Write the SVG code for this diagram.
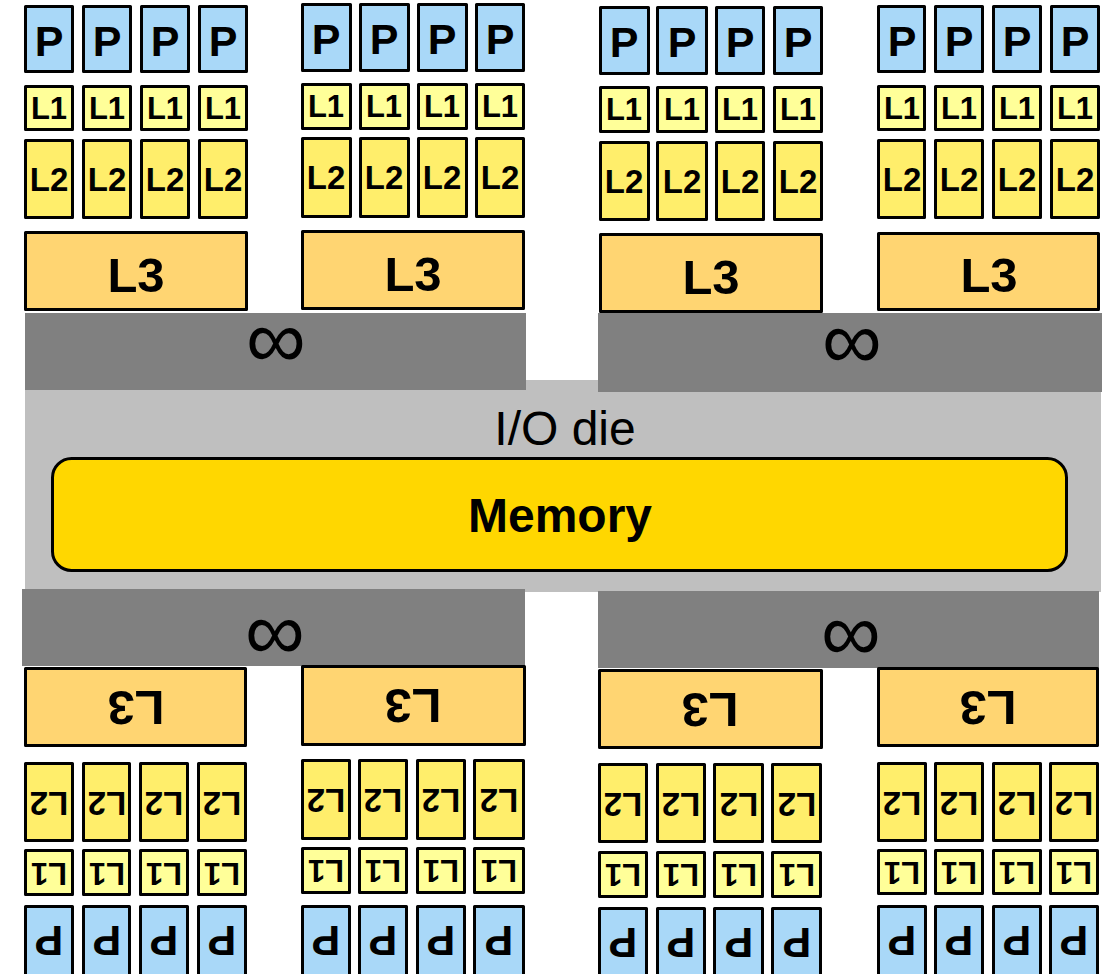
<svg xmlns="http://www.w3.org/2000/svg" width="1110" height="974" viewBox="0 0 1110 974">
<style>
.b{stroke:#000;stroke-width:3;stroke-linejoin:round}
.p{fill:#A9D8F8}.l1{fill:#FFFF99}.l2{fill:#FFEE6B}.l3{fill:#FFD572}
.t{font-family:"Liberation Sans",Arial,sans-serif;font-weight:bold;text-anchor:middle;fill:#000}
.tp{font-size:43px}.t1{font-size:31px}.t2{font-size:33px}.t3{font-size:49px}
.inf{font-family:"Liberation Sans",Arial,sans-serif;font-size:84px;text-anchor:middle;fill:#000}
</style>
<rect width="1110" height="974" fill="#fff"/>
<g id="io-die">
<rect x="25" y="380" width="1076" height="212" fill="#BFBFBF"/>
<text x="565" y="445" style="font-family:'Liberation Sans',Arial,sans-serif;font-size:48px;text-anchor:middle">I/O die</text>
</g>
<g id="memory">
<rect x="52.5" y="458.5" width="1014" height="112" rx="19" fill="#FFD700" stroke="#000" stroke-width="3"/>
<text class="t" x="560" y="532" style="font-size:48px">Memory</text>
</g>
<g id="fabric-top-left"><rect x="25" y="313" width="501" height="77" fill="#808080"/><text class="inf" x="276" y="368">∞</text></g>
<g id="fabric-top-right"><rect x="598" y="313" width="504" height="79" fill="#808080"/><text class="inf" x="852" y="369">∞</text></g>
<g id="fabric-bottom-left"><rect x="22" y="589" width="503" height="77" fill="#808080"/><text class="inf" x="275" y="660">∞</text></g>
<g id="fabric-bottom-right"><rect x="598" y="591" width="501" height="77" fill="#808080"/><text class="inf" x="851" y="661">∞</text></g>

<g id="ccd-top-1" transform="translate(24 5)">
<g id="t1-p1"><rect class="b p" x="1.5" y="1.5" width="47" height="65"/><text class="t tp" x="25" y="51">P</text></g>
<g id="t1-p2"><rect class="b p" x="59.5" y="1.5" width="47" height="65"/><text class="t tp" x="83" y="51">P</text></g>
<g id="t1-p3"><rect class="b p" x="117.5" y="1.5" width="47" height="65"/><text class="t tp" x="141" y="51">P</text></g>
<g id="t1-p4"><rect class="b p" x="175.5" y="1.5" width="47" height="65"/><text class="t tp" x="199" y="51">P</text></g>
<g id="t1-l1a"><rect class="b l1" x="1.5" y="81.5" width="47" height="43"/><text class="t t1" x="25" y="114">L1</text></g>
<g id="t1-l1b"><rect class="b l1" x="59.5" y="81.5" width="47" height="43"/><text class="t t1" x="83" y="114">L1</text></g>
<g id="t1-l1c"><rect class="b l1" x="117.5" y="81.5" width="47" height="43"/><text class="t t1" x="141" y="114">L1</text></g>
<g id="t1-l1d"><rect class="b l1" x="175.5" y="81.5" width="47" height="43"/><text class="t t1" x="199" y="114">L1</text></g>
<g id="t1-l2a"><rect class="b l2" x="1.5" y="135.5" width="47" height="77"/><text class="t t2" x="25" y="186">L2</text></g>
<g id="t1-l2b"><rect class="b l2" x="59.5" y="135.5" width="47" height="77"/><text class="t t2" x="83" y="186">L2</text></g>
<g id="t1-l2c"><rect class="b l2" x="117.5" y="135.5" width="47" height="77"/><text class="t t2" x="141" y="186">L2</text></g>
<g id="t1-l2d"><rect class="b l2" x="175.5" y="135.5" width="47" height="77"/><text class="t t2" x="199" y="186">L2</text></g>
<g id="t1-l3"><rect class="b l3" x="1.5" y="227.5" width="221" height="77"/><text class="t t3" x="112" y="287">L3</text></g>
</g>

<g id="ccd-top-2" transform="translate(301 3)">
<g id="t2-p1"><rect class="b p" x="1.5" y="1.5" width="48" height="66"/><text class="t tp" x="25" y="51">P</text></g>
<g id="t2-p2"><rect class="b p" x="59.5" y="1.5" width="48" height="66"/><text class="t tp" x="83" y="51">P</text></g>
<g id="t2-p3"><rect class="b p" x="117.5" y="1.5" width="48" height="66"/><text class="t tp" x="141" y="51">P</text></g>
<g id="t2-p4"><rect class="b p" x="175.5" y="1.5" width="47" height="66"/><text class="t tp" x="199" y="51">P</text></g>
<g id="t2-l1a"><rect class="b l1" x="1.5" y="81.5" width="48" height="44"/><text class="t t1" x="25" y="114">L1</text></g>
<g id="t2-l1b"><rect class="b l1" x="59.5" y="81.5" width="48" height="44"/><text class="t t1" x="83" y="114">L1</text></g>
<g id="t2-l1c"><rect class="b l1" x="117.5" y="81.5" width="48" height="44"/><text class="t t1" x="141" y="114">L1</text></g>
<g id="t2-l1d"><rect class="b l1" x="175.5" y="81.5" width="47" height="44"/><text class="t t1" x="199" y="114">L1</text></g>
<g id="t2-l2a"><rect class="b l2" x="1.5" y="135.5" width="48" height="78"/><text class="t t2" x="25" y="186">L2</text></g>
<g id="t2-l2b"><rect class="b l2" x="59.5" y="135.5" width="48" height="78"/><text class="t t2" x="83" y="186">L2</text></g>
<g id="t2-l2c"><rect class="b l2" x="117.5" y="135.5" width="48" height="78"/><text class="t t2" x="141" y="186">L2</text></g>
<g id="t2-l2d"><rect class="b l2" x="175.5" y="135.5" width="47" height="78"/><text class="t t2" x="199" y="186">L2</text></g>
<g id="t2-l3"><rect class="b l3" x="1.5" y="228.5" width="221" height="77"/><text class="t t3" x="112" y="288">L3</text></g>
</g>

<g id="ccd-top-3" transform="translate(599 6)">
<g id="t3-p1"><rect class="b p" x="1.5" y="1.5" width="48" height="66"/><text class="t tp" x="25" y="51">P</text></g>
<g id="t3-p2"><rect class="b p" x="58.5" y="1.5" width="49" height="66"/><text class="t tp" x="83" y="51">P</text></g>
<g id="t3-p3"><rect class="b p" x="117.5" y="1.5" width="47" height="66"/><text class="t tp" x="141" y="51">P</text></g>
<g id="t3-p4"><rect class="b p" x="175.5" y="1.5" width="47" height="66"/><text class="t tp" x="199" y="51">P</text></g>
<g id="t3-l1a"><rect class="b l1" x="1.5" y="81.5" width="48" height="44"/><text class="t t1" x="25" y="114">L1</text></g>
<g id="t3-l1b"><rect class="b l1" x="58.5" y="81.5" width="49" height="44"/><text class="t t1" x="83" y="114">L1</text></g>
<g id="t3-l1c"><rect class="b l1" x="117.5" y="81.5" width="47" height="44"/><text class="t t1" x="141" y="114">L1</text></g>
<g id="t3-l1d"><rect class="b l1" x="175.5" y="81.5" width="47" height="44"/><text class="t t1" x="199" y="114">L1</text></g>
<g id="t3-l2a"><rect class="b l2" x="1.5" y="136.5" width="48" height="77"/><text class="t t2" x="25" y="187">L2</text></g>
<g id="t3-l2b"><rect class="b l2" x="58.5" y="136.5" width="49" height="77"/><text class="t t2" x="83" y="187">L2</text></g>
<g id="t3-l2c"><rect class="b l2" x="117.5" y="136.5" width="47" height="77"/><text class="t t2" x="141" y="187">L2</text></g>
<g id="t3-l2d"><rect class="b l2" x="175.5" y="136.5" width="47" height="77"/><text class="t t2" x="199" y="187">L2</text></g>
<g id="t3-l3"><rect class="b l3" x="1.5" y="228.5" width="221" height="77"/><text class="t t3" x="112" y="288">L3</text></g>
</g>

<g id="ccd-top-4" transform="translate(877 5)">
<g id="t4-p1"><rect class="b p" x="1.5" y="1.5" width="46" height="65"/><text class="t tp" x="25" y="51">P</text></g>
<g id="t4-p2"><rect class="b p" x="58.5" y="1.5" width="47" height="65"/><text class="t tp" x="82" y="51">P</text></g>
<g id="t4-p3"><rect class="b p" x="116.5" y="1.5" width="47" height="65"/><text class="t tp" x="140" y="51">P</text></g>
<g id="t4-p4"><rect class="b p" x="174.5" y="1.5" width="47" height="65"/><text class="t tp" x="198" y="51">P</text></g>
<g id="t4-l1a"><rect class="b l1" x="1.5" y="81.5" width="46" height="43"/><text class="t t1" x="25" y="114">L1</text></g>
<g id="t4-l1b"><rect class="b l1" x="58.5" y="81.5" width="47" height="43"/><text class="t t1" x="82" y="114">L1</text></g>
<g id="t4-l1c"><rect class="b l1" x="116.5" y="81.5" width="47" height="43"/><text class="t t1" x="140" y="114">L1</text></g>
<g id="t4-l1d"><rect class="b l1" x="174.5" y="81.5" width="47" height="43"/><text class="t t1" x="198" y="114">L1</text></g>
<g id="t4-l2a"><rect class="b l2" x="1.5" y="135.5" width="46" height="77"/><text class="t t2" x="25" y="186">L2</text></g>
<g id="t4-l2b"><rect class="b l2" x="58.5" y="135.5" width="47" height="77"/><text class="t t2" x="82" y="186">L2</text></g>
<g id="t4-l2c"><rect class="b l2" x="116.5" y="135.5" width="47" height="77"/><text class="t t2" x="140" y="186">L2</text></g>
<g id="t4-l2d"><rect class="b l2" x="174.5" y="135.5" width="47" height="77"/><text class="t t2" x="198" y="186">L2</text></g>
<g id="t4-l3"><rect class="b l3" x="1.5" y="228.5" width="220" height="76"/><text class="t t3" x="112" y="287">L3</text></g>
</g>

<g id="ccd-bottom-1" transform="translate(24 667)">
<g id="b1-l3"><rect class="b l3" x="1.5" y="1.5" width="220" height="77"/><text class="t t3" x="112" y="59" transform="rotate(180 112 41.5)">L3</text></g>
<g id="b1-l2a"><rect class="b l2" x="1.5" y="96.5" width="47" height="77"/><text class="t t2" x="25" y="148.5" transform="rotate(180 25 136.5)">L2</text></g>
<g id="b1-l2b"><rect class="b l2" x="59.5" y="96.5" width="46" height="77"/><text class="t t2" x="83" y="148.5" transform="rotate(180 83 136.5)">L2</text></g>
<g id="b1-l2c"><rect class="b l2" x="116.5" y="96.5" width="47" height="77"/><text class="t t2" x="140" y="148.5" transform="rotate(180 140 136.5)">L2</text></g>
<g id="b1-l2d"><rect class="b l2" x="174.5" y="96.5" width="47" height="77"/><text class="t t2" x="198" y="148.5" transform="rotate(180 198 136.5)">L2</text></g>
<g id="b1-l1a"><rect class="b l1" x="1.5" y="183.5" width="47" height="44"/><text class="t t1" x="25" y="217.5" transform="rotate(180 25 206.5)">L1</text></g>
<g id="b1-l1b"><rect class="b l1" x="59.5" y="183.5" width="46" height="44"/><text class="t t1" x="83" y="217.5" transform="rotate(180 83 206.5)">L1</text></g>
<g id="b1-l1c"><rect class="b l1" x="116.5" y="183.5" width="47" height="44"/><text class="t t1" x="140" y="217.5" transform="rotate(180 140 206.5)">L1</text></g>
<g id="b1-l1d"><rect class="b l1" x="174.5" y="183.5" width="47" height="44"/><text class="t t1" x="198" y="217.5" transform="rotate(180 198 206.5)">L1</text></g>
<g id="b1-p1"><rect class="b p" x="1.5" y="239.5" width="47" height="80"/><text class="t tp" x="25" y="289" transform="rotate(180 25 274)">P</text></g>
<g id="b1-p2"><rect class="b p" x="59.5" y="239.5" width="46" height="80"/><text class="t tp" x="83" y="289" transform="rotate(180 83 274)">P</text></g>
<g id="b1-p3"><rect class="b p" x="116.5" y="239.5" width="47" height="80"/><text class="t tp" x="140" y="289" transform="rotate(180 140 274)">P</text></g>
<g id="b1-p4"><rect class="b p" x="174.5" y="239.5" width="47" height="80"/><text class="t tp" x="198" y="289" transform="rotate(180 198 274)">P</text></g>
</g>

<g id="ccd-bottom-2" transform="translate(301 665)">
<g id="b2-l3"><rect class="b l3" x="1.5" y="1.5" width="222" height="78"/><text class="t t3" x="112" y="59" transform="rotate(180 112 41.5)">L3</text></g>
<g id="b2-l2a"><rect class="b l2" x="1.5" y="95.5" width="47" height="78"/><text class="t t2" x="25" y="148" transform="rotate(180 25 136)">L2</text></g>
<g id="b2-l2b"><rect class="b l2" x="58.5" y="95.5" width="47" height="78"/><text class="t t2" x="82" y="148" transform="rotate(180 82 136)">L2</text></g>
<g id="b2-l2c"><rect class="b l2" x="116.5" y="95.5" width="47" height="78"/><text class="t t2" x="140" y="148" transform="rotate(180 140 136)">L2</text></g>
<g id="b2-l2d"><rect class="b l2" x="173.5" y="95.5" width="49" height="78"/><text class="t t2" x="198" y="148" transform="rotate(180 198 136)">L2</text></g>
<g id="b2-l1a"><rect class="b l1" x="1.5" y="183.5" width="47" height="44"/><text class="t t1" x="25" y="217" transform="rotate(180 25 206)">L1</text></g>
<g id="b2-l1b"><rect class="b l1" x="58.5" y="183.5" width="47" height="44"/><text class="t t1" x="82" y="217" transform="rotate(180 82 206)">L1</text></g>
<g id="b2-l1c"><rect class="b l1" x="116.5" y="183.5" width="47" height="44"/><text class="t t1" x="140" y="217" transform="rotate(180 140 206)">L1</text></g>
<g id="b2-l1d"><rect class="b l1" x="173.5" y="183.5" width="49" height="44"/><text class="t t1" x="198" y="217" transform="rotate(180 198 206)">L1</text></g>
<g id="b2-p1"><rect class="b p" x="1.5" y="241.5" width="47" height="80"/><text class="t tp" x="25" y="291" transform="rotate(180 25 276)">P</text></g>
<g id="b2-p2"><rect class="b p" x="58.5" y="241.5" width="47" height="80"/><text class="t tp" x="82" y="291" transform="rotate(180 82 276)">P</text></g>
<g id="b2-p3"><rect class="b p" x="116.5" y="241.5" width="47" height="80"/><text class="t tp" x="140" y="291" transform="rotate(180 140 276)">P</text></g>
<g id="b2-p4"><rect class="b p" x="173.5" y="241.5" width="49" height="80"/><text class="t tp" x="198" y="291" transform="rotate(180 198 276)">P</text></g>
</g>

<g id="ccd-bottom-3" transform="translate(598 669)">
<g id="b3-l3"><rect class="b l3" x="1.5" y="1.5" width="222" height="77"/><text class="t t3" x="112" y="59" transform="rotate(180 112 41.5)">L3</text></g>
<g id="b3-l2a"><rect class="b l2" x="1.5" y="95.5" width="47" height="77"/><text class="t t2" x="25" y="148" transform="rotate(180 25 136)">L2</text></g>
<g id="b3-l2b"><rect class="b l2" x="59.5" y="95.5" width="47" height="77"/><text class="t t2" x="83" y="148" transform="rotate(180 83 136)">L2</text></g>
<g id="b3-l2c"><rect class="b l2" x="116.5" y="95.5" width="48" height="77"/><text class="t t2" x="141" y="148" transform="rotate(180 141 136)">L2</text></g>
<g id="b3-l2d"><rect class="b l2" x="174.5" y="95.5" width="48" height="77"/><text class="t t2" x="199" y="148" transform="rotate(180 199 136)">L2</text></g>
<g id="b3-l1a"><rect class="b l1" x="1.5" y="183.5" width="47" height="44"/><text class="t t1" x="25" y="217" transform="rotate(180 25 206)">L1</text></g>
<g id="b3-l1b"><rect class="b l1" x="59.5" y="183.5" width="47" height="44"/><text class="t t1" x="83" y="217" transform="rotate(180 83 206)">L1</text></g>
<g id="b3-l1c"><rect class="b l1" x="116.5" y="183.5" width="48" height="44"/><text class="t t1" x="141" y="217" transform="rotate(180 141 206)">L1</text></g>
<g id="b3-l1d"><rect class="b l1" x="174.5" y="183.5" width="48" height="44"/><text class="t t1" x="199" y="217" transform="rotate(180 199 206)">L1</text></g>
<g id="b3-p1"><rect class="b p" x="1.5" y="239.5" width="47" height="80"/><text class="t tp" x="25" y="289" transform="rotate(180 25 274)">P</text></g>
<g id="b3-p2"><rect class="b p" x="59.5" y="239.5" width="47" height="80"/><text class="t tp" x="83" y="289" transform="rotate(180 83 274)">P</text></g>
<g id="b3-p3"><rect class="b p" x="116.5" y="239.5" width="48" height="80"/><text class="t tp" x="141" y="289" transform="rotate(180 141 274)">P</text></g>
<g id="b3-p4"><rect class="b p" x="174.5" y="239.5" width="48" height="80"/><text class="t tp" x="199" y="289" transform="rotate(180 199 274)">P</text></g>
</g>

<g id="ccd-bottom-4" transform="translate(877 667)">
<g id="b4-l3"><rect class="b l3" x="1.5" y="1.5" width="219" height="77"/><text class="t t3" x="111" y="59" transform="rotate(180 111 41.5)">L3</text></g>
<g id="b4-l2a"><rect class="b l2" x="1.5" y="96.5" width="47" height="77"/><text class="t t2" x="25" y="148.5" transform="rotate(180 25 136.5)">L2</text></g>
<g id="b4-l2b"><rect class="b l2" x="58.5" y="96.5" width="47" height="77"/><text class="t t2" x="82" y="148.5" transform="rotate(180 82 136.5)">L2</text></g>
<g id="b4-l2c"><rect class="b l2" x="116.5" y="96.5" width="47" height="77"/><text class="t t2" x="140" y="148.5" transform="rotate(180 140 136.5)">L2</text></g>
<g id="b4-l2d"><rect class="b l2" x="173.5" y="96.5" width="47" height="77"/><text class="t t2" x="197" y="148.5" transform="rotate(180 197 136.5)">L2</text></g>
<g id="b4-l1a"><rect class="b l1" x="1.5" y="183.5" width="47" height="43"/><text class="t t1" x="25" y="217" transform="rotate(180 25 206)">L1</text></g>
<g id="b4-l1b"><rect class="b l1" x="58.5" y="183.5" width="47" height="43"/><text class="t t1" x="82" y="217" transform="rotate(180 82 206)">L1</text></g>
<g id="b4-l1c"><rect class="b l1" x="116.5" y="183.5" width="47" height="43"/><text class="t t1" x="140" y="217" transform="rotate(180 140 206)">L1</text></g>
<g id="b4-l1d"><rect class="b l1" x="173.5" y="183.5" width="47" height="43"/><text class="t t1" x="197" y="217" transform="rotate(180 197 206)">L1</text></g>
<g id="b4-p1"><rect class="b p" x="1.5" y="239.5" width="47" height="80"/><text class="t tp" x="25" y="289" transform="rotate(180 25 274)">P</text></g>
<g id="b4-p2"><rect class="b p" x="58.5" y="239.5" width="47" height="80"/><text class="t tp" x="82" y="289" transform="rotate(180 82 274)">P</text></g>
<g id="b4-p3"><rect class="b p" x="116.5" y="239.5" width="47" height="80"/><text class="t tp" x="140" y="289" transform="rotate(180 140 274)">P</text></g>
<g id="b4-p4"><rect class="b p" x="173.5" y="239.5" width="47" height="80"/><text class="t tp" x="197" y="289" transform="rotate(180 197 274)">P</text></g>
</g>
<g id="connectors"/>
</svg>
